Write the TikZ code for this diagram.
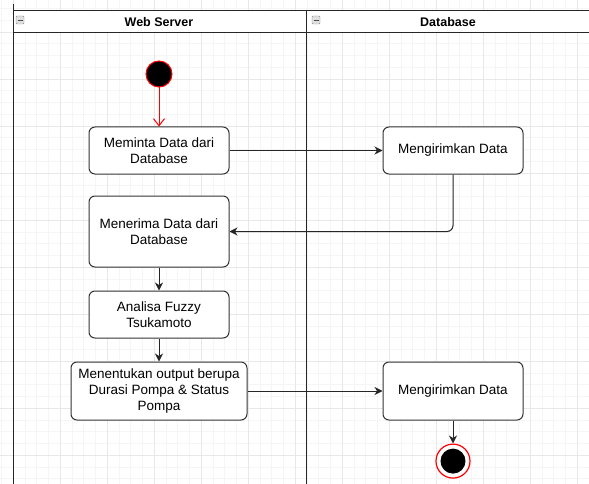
\documentclass[tikz,border=0pt]{standalone}
\usepackage{fontspec}
\setmainfont{Liberation Sans}
\usepackage{tikz}
\usetikzlibrary{arrows.meta,positioning}

\begin{document}
\begin{tikzpicture}[
  x=1pt, y=1pt,
  node distance=21pt,
  act/.style={draw=black!80, line width=1pt, rounded corners=6pt, fill=white, minimum width=140pt, minimum height=47pt, align=center, font=\fontsize{13.5}{16}\selectfont},
  lane/.style={font=\fontsize{12.5}{15}\selectfont\bfseries},
  arr/.style={draw=black!85, line width=1pt, -{Stealth[length=8pt, width=8pt, inset=2.5pt]}},
  startarr/.style={draw=red, line width=1pt, -{Straight Barb[length=7pt, width=11pt]}},
  startdot/.style={circle, draw=red, line width=1pt, fill=black, minimum size=26pt, inner sep=0pt},
  endring/.style={circle, draw=red, line width=1.2pt, fill=white, minimum size=34pt, inner sep=0pt},
  enddot/.style={circle, fill=black, minimum size=25pt, inner sep=0pt},
  gridmin/.style={draw=black!4, line width=0.5pt},
  gridmaj/.style={draw=black!9, line width=0.6pt},
  pool/.style={draw=black!85, line width=1pt}
]
  \useasboundingbox (0,0) rectangle (589,-484);
  % background grid
  \begin{scope}[shift={(13,-32)}]
    \draw[gridmin, step=11.75pt] (-13,32) grid (576,-452);
    \draw[gridmaj, step=47pt] (-13,32) grid (576,-452);
  \end{scope}

  % swimlanes
  \fill[white] (13,-11) rectangle (589,-33);
  \draw[pool] (13,-4) -- (13,-484);
  \draw[pool] (13,-11) -- (589,-11);
  \draw[pool] (13,-33) -- (589,-33);
  \draw[pool] (306,-11) -- (306,-484);
  \node[lane] (ws) at (159,-22) {Web Server};
  \node[lane] (db) at (448,-22) {Database};
  \foreach \x in {20,316} {
    \draw[black!45, fill=black!12, rounded corners=1pt] (\x-4,-16) rectangle (\x+4,-24);
    \draw[black!70, line width=0.8pt] (\x-2.5,-20) -- (\x+2.5,-20);
  }

  % activities
  \node[startdot] (s) at (159,-74) {};
  \node[act, below=39pt of s] (m) {Meminta Data dari\\Database};
  \node[act, right=153pt of m] (k1) {Mengirimkan Data};
  \node[act, below=of m, minimum height=71pt] (t) {Menerima Data dari\\Database};
  \node[act, below=23pt of t] (f) {Analisa Fuzzy\\Tsukamoto};
  \node[act, below=23pt of f, minimum width=176pt, minimum height=58pt] (o) {Menentukan output berupa\\Durasi Pompa \& Status\\Pompa};
  \node[act, minimum height=58pt] (k2) at (o -| k1) {Mengirimkan Data};
  \node[endring, below=23pt of k2] (e) {};
  \node[enddot] (ed) at (e) {};

  \draw[startarr] (s) -- (m);
  \draw[arr] (m) -- (k1);
  \draw[arr, rounded corners=6pt] (k1.south) |- (t.east);
  \draw[arr] (t) -- (f);
  \draw[arr] (f) -- (o);
  \draw[arr] (o) -- (k2);
  \draw[arr] (k2) -- (e);
\end{tikzpicture}
\end{document}
